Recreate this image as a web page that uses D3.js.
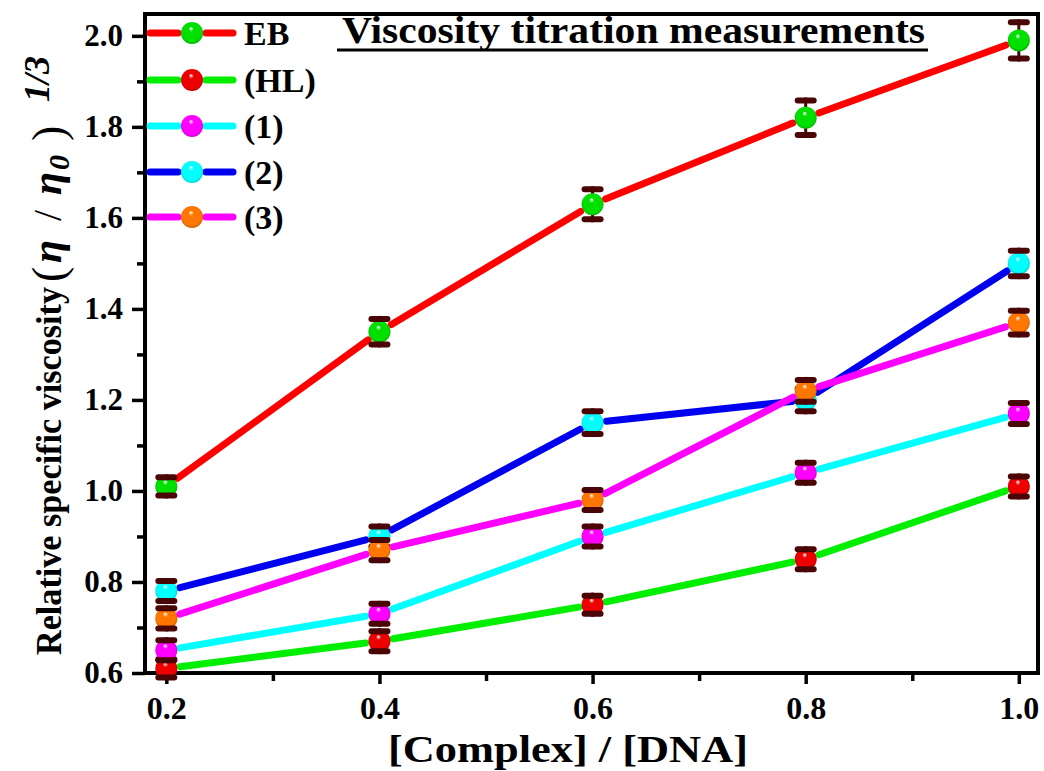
<!DOCTYPE html>
<html>
<head>
<meta charset="utf-8">
<script src="https://cdn.jsdelivr.net/npm/d3@7"></script>
<style>
  body { margin: 0; background: #fff; }
  svg { display: block; }
  text { font-family: "Liberation Serif", "Times New Roman", serif; }
</style>
</head>
<body>
<div id="chart"></div>
<script>
// ratios on the x axis
const ratios = [0.2, 0.4, 0.6, 0.8, 1.0];

// series names (legend)
const seriesNames = ["EB", "(HL)", "(1)", "(2)", "(3)"];

// measured values for each series
const ebValues = [1.01, 1.35, 1.63, 1.82, 1.99];
const hlValues = [0.61, 0.67, 0.75, 0.85, 1.01];
const c1Values = [0.65, 0.73, 0.90, 1.04, 1.17];
const c2Values = [0.78, 0.90, 1.15, 1.20, 1.50];
const c3Values = [0.72, 0.87, 0.98, 1.22, 1.37];

// error bars
const ebErrors = [0.02, 0.028, 0.033, 0.038, 0.04];
const hlErrors = [0.02, 0.022, 0.02, 0.022, 0.022];
const c1Errors = [0.022, 0.022, 0.022, 0.022, 0.023];
const c2Errors = [0.022, 0.022, 0.025, 0.025, 0.028];
const c3Errors = [0.022, 0.022, 0.022, 0.024, 0.026];

// line colours and symbol colours
const lineColors = ["#ff0000", "#00ee00", "#00ffff", "#0000f0", "#ff00ff"];
const symbolColors = ["#00e000", "#ee0000", "#ff00ff", "#00ffff", "#ff7700"];

// tick labels
const xTicks = [0.2, 0.4, 0.6, 0.8, 1.0];
const yTicks = [0.6, 0.8, 1.0, 1.2, 1.4, 1.6, 1.8, 2.0];

const allValues = [ebValues, hlValues, c1Values, c2Values, c3Values];
const allErrors = [ebErrors, hlErrors, c1Errors, c2Errors, c3Errors];

const W = 1044, H = 771;
const pLeft = 145, pRight = 1038, pTop = 14, pBottom = 673;

const svg = d3.select("#chart").append("svg")
    .attr("width", W)
    .attr("height", H);

const x = d3.scaleLinear().domain([0.18, 1.018]).range([pLeft, pRight]);
const y = d3.scaleLinear().domain([0.6, 2.048]).range([pBottom, pTop]);

// gradients for the shiny spheres
const defs = svg.append("defs");
symbolColors.forEach((c, i) => {
    const g = defs.append("radialGradient")
        .attr("id", "ball" + i)
        .attr("cx", "50%").attr("cy", "50%").attr("r", "55%")
        .attr("fx", "45%").attr("fy", "28%");
    g.append("stop").attr("offset", "0%").attr("stop-color", "#ffffff");
    g.append("stop").attr("offset", "22%").attr("stop-color", c);
    g.append("stop").attr("offset", "78%").attr("stop-color", c);
    g.append("stop").attr("offset", "100%").attr("stop-color", d3.color(c).darker(0.9));
});

// axes
const xAxis = svg.append("g")
    .attr("transform", "translate(0," + pBottom + ")")
    .call(d3.axisBottom(x).tickValues(xTicks).tickFormat(d3.format(".1f")).tickSize(11).tickPadding(13));
const xMinor = svg.append("g")
    .attr("transform", "translate(0," + pBottom + ")")
    .call(d3.axisBottom(x).tickValues([0.3, 0.5, 0.7, 0.9]).tickFormat("").tickSize(8));

const yAxis = svg.append("g")
    .attr("transform", "translate(" + pLeft + ",0)")
    .call(d3.axisLeft(y).tickValues(yTicks).tickFormat(d3.format(".1f")).tickSize(13).tickPadding(9));
const yMinor = svg.append("g")
    .attr("transform", "translate(" + pLeft + ",0)")
    .call(d3.axisLeft(y).tickValues([0.7, 0.9, 1.1, 1.3, 1.5, 1.7, 1.9]).tickFormat("").tickSize(8));

[xAxis, xMinor, yAxis, yMinor].forEach(a => {
    a.select(".domain").remove();
    a.selectAll(".tick line").attr("stroke", "#000").attr("stroke-width", 3.5);
});
xAxis.selectAll(".tick text")
    .attr("font-size", 31).attr("font-weight", "bold").attr("fill", "#000")
    .attr("textLength", 40).attr("lengthAdjust", "spacingAndGlyphs");
yAxis.selectAll(".tick text")
    .attr("font-size", 31).attr("font-weight", "bold").attr("fill", "#000");

// frame
svg.append("rect")
    .attr("x", pLeft).attr("y", pTop)
    .attr("width", pRight - pLeft).attr("height", pBottom - pTop)
    .attr("fill", "none").attr("stroke", "#000").attr("stroke-width", 4);

const plot = svg.append("g");
const r = 11;
const gap = 14;

allValues.forEach((vals, s) => {
    const pts = ratios.map((d, i) => [x(d), y(vals[i])]);
    // line segments with a gap around the symbols
    for (let i = 0; i < pts.length - 1; i++) {
        const [x1, y1] = pts[i], [x2, y2] = pts[i + 1];
        const len = Math.hypot(x2 - x1, y2 - y1);
        const ux = (x2 - x1) / len, uy = (y2 - y1) / len;
        plot.append("line")
            .attr("x1", x1 + ux * gap).attr("y1", y1 + uy * gap)
            .attr("x2", x2 - ux * gap).attr("y2", y2 - uy * gap)
            .attr("stroke", lineColors[s]).attr("stroke-width", 7)
            .attr("stroke-linecap", "round");
    }
    const errs = allErrors[s];
    ratios.forEach((d, i) => {
        const cx = x(d), cy = y(vals[i]);
        const yt = y(vals[i] + errs[i]), yb = y(vals[i] - errs[i]);
        plot.append("line")
            .attr("x1", cx).attr("x2", cx).attr("y1", yt - 3).attr("y2", yb + 3)
            .attr("stroke", "#4a0606").attr("stroke-width", 3);
        plot.append("circle")
            .attr("cx", cx).attr("cy", cy).attr("r", r)
            .attr("fill", "url(#ball" + s + ")");
        [yt, yb].forEach(cap => {
            plot.append("line")
                .attr("x1", cx - 8).attr("x2", cx + 8).attr("y1", cap).attr("y2", cap)
                .attr("stroke", "#4a0606").attr("stroke-width", 6)
                .attr("stroke-linecap", "round");
        });
    });
});

// legend
const legendY = [33, 80, 126, 172, 217];
const legend = svg.append("g");
seriesNames.forEach((name, s) => {
    const ly = legendY[s];
    legend.append("line").attr("x1", 150).attr("x2", 178).attr("y1", ly).attr("y2", ly)
        .attr("stroke", lineColors[s]).attr("stroke-width", 7).attr("stroke-linecap", "round");
    legend.append("line").attr("x1", 206).attr("x2", 233).attr("y1", ly).attr("y2", ly)
        .attr("stroke", lineColors[s]).attr("stroke-width", 7).attr("stroke-linecap", "round");
    legend.append("circle").attr("cx", 192).attr("cy", ly).attr("r", r)
        .attr("fill", "url(#ball" + s + ")");
    legend.append("text").attr("x", 244).attr("y", ly + 12)
        .attr("font-size", 34).attr("font-weight", "bold").text(name);
});

// title
svg.append("text")
    .attr("x", 342).attr("y", 43)
    .attr("font-size", 38).attr("font-weight", "bold")
    .attr("textLength", 583).attr("lengthAdjust", "spacingAndGlyphs")
    .text("Viscosity titration measurements");
svg.append("line")
    .attr("x1", 337).attr("x2", 928).attr("y1", 50).attr("y2", 50)
    .attr("stroke", "#000").attr("stroke-width", 3);

// x axis title
svg.append("text")
    .attr("x", 388).attr("y", 762)
    .attr("font-size", 38).attr("font-weight", "bold")
    .attr("textLength", 360).attr("lengthAdjust", "spacingAndGlyphs")
    .text("[Complex] / [DNA]");

// y axis title, built from pieces along the rotated baseline
const yTitle = svg.append("g")
    .attr("transform", "translate(61,655) rotate(-90)");
yTitle.append("text")
    .attr("x", 0).attr("y", 0)
    .attr("font-size", 35).attr("font-weight", "bold")
    .attr("textLength", 368).attr("lengthAdjust", "spacingAndGlyphs")
    .text("Relative specific viscosity");
const yParts = [
    { t: "(", u: 373, v: 3, size: 46, weight: "normal", style: "normal" },
    { t: "η", u: 392, v: 0, size: 42, weight: "bold", style: "italic" },
    { t: "/", u: 434, v: 0, size: 40, weight: "normal", style: "normal" },
    { t: "η", u: 460, v: 0, size: 42, weight: "bold", style: "italic" },
    { t: "0", u: 485, v: 8, size: 30, weight: "bold", style: "italic" },
    { t: ")", u: 514, v: 3, size: 46, weight: "normal", style: "normal" },
    { t: "1/3", u: 553, v: -12, size: 36, weight: "bold", style: "italic" }
];
yParts.forEach(p => {
    yTitle.append("text")
        .attr("x", p.u).attr("y", p.v)
        .attr("font-size", p.size).attr("font-weight", p.weight)
        .attr("font-style", p.style)
        .text(p.t);
});
</script>
</body>
</html>
